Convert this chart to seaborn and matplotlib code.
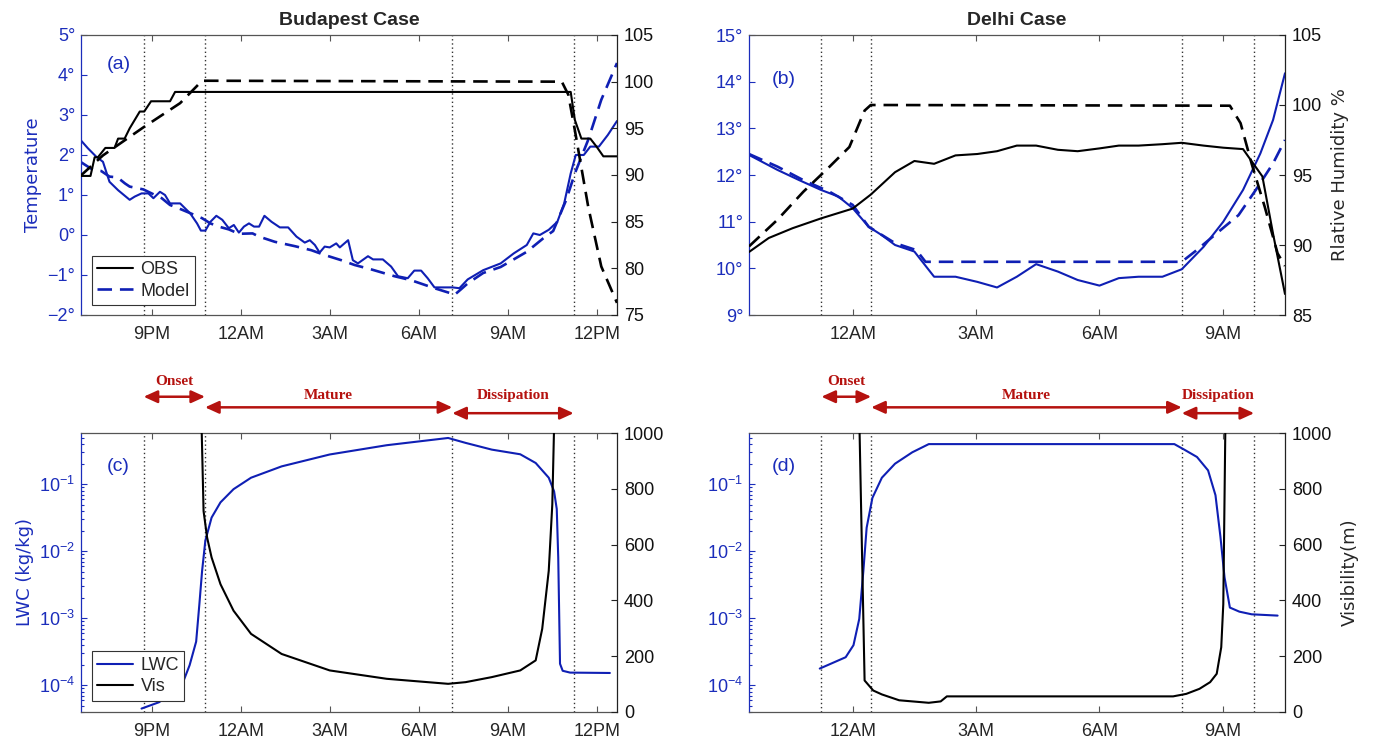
import matplotlib
matplotlib.use("Agg")
import matplotlib.pyplot as plt
from matplotlib.lines import Line2D
import seaborn as sns

# ---------------- Budapest case (hours counted from 00:00 of the first day) ----------------
bud_temp_obs_hr = [18.6, 18.85, 19.13, 19.36, 19.58, 19.87, 20.26, 20.43, 20.66, 20.89, 21.06,
                   21.28, 21.45, 21.62, 21.96, 22.3, 22.53, 22.66, 22.81, 22.98, 23.18, 23.38,
                   23.6, 23.77, 23.94, 24.11, 24.28, 24.45, 24.62, 24.8, 25.04, 25.32, 25.6,
                   25.88, 26.16, 26.33, 26.5, 26.66, 26.83, 27.0, 27.22, 27.34, 27.62, 27.78,
                   27.95, 28.29, 28.46, 28.79, 29.07, 29.3, 29.63, 29.85, 30.08, 30.3, 30.53,
                   31.14, 31.37, 31.65, 32.17, 32.76, 33.2, 33.64, 33.86, 34.08, 34.38, 34.67,
                   34.9, 35.12, 35.29, 35.56, 35.78, 36.07, 36.37, 36.68]
bud_temp_obs = [2.38, 2.17, 1.96, 1.83, 1.33, 1.12, 0.88, 0.96, 1.04, 1.04, 0.92,
                1.08, 1.0, 0.79, 0.79, 0.54, 0.29, 0.11, 0.11, 0.33, 0.48, 0.38,
                0.17, 0.25, 0.06, 0.21, 0.29, 0.21, 0.21, 0.48, 0.33, 0.19, 0.19,
                -0.04, -0.19, -0.13, -0.25, -0.44, -0.29, -0.31, -0.21, -0.31, -0.13, -0.63,
                -0.71, -0.53, -0.61, -0.61, -0.79, -1.03, -1.08, -0.89, -0.89, -1.08, -1.31,
                -1.31, -1.33, -1.11, -0.88, -0.71, -0.46, -0.25, 0.04, 0.0, 0.13, 0.33,
                0.79, 1.54, 2.0, 2.0, 2.21, 2.21, 2.5, 2.85]

bud_temp_mod_hr = [18.6, 18.85, 19.02, 19.3, 19.58, 19.85, 20.1, 20.26, 20.72, 21.0, 21.34,
                   21.62, 21.9, 22.19, 22.7, 22.98, 23.26, 23.6, 23.94, 24.4, 24.62, 25.15,
                   25.83, 26.38, 26.83, 27.39, 27.84, 28.4, 29.18, 29.74, 30.53, 31.09, 31.2,
                   31.42, 31.65, 32.17, 32.76, 33.64, 34.2, 34.53, 34.97, 35.26, 35.71, 36.15,
                   36.68]
bud_temp_mod = [1.83, 1.71, 1.63, 1.6, 1.46, 1.44, 1.29, 1.21, 1.14, 1.04, 0.92,
                0.75, 0.67, 0.58, 0.42, 0.29, 0.21, 0.14, 0.03, 0.04, -0.04, -0.17,
                -0.28, -0.38, -0.5, -0.63, -0.75, -0.86, -1.03, -1.13, -1.33, -1.46, -1.5,
                -1.36, -1.21, -0.95, -0.8, -0.42, -0.08, 0.1, 0.88, 1.54, 2.38, 3.38,
                4.3]

bud_rh_obs_hr = [18.6, 18.94, 19.08, 19.19, 19.44, 19.75, 19.87, 20.09, 20.26, 20.6, 20.75,
                 20.98, 21.62, 21.79, 35.12, 35.26, 35.48, 35.78, 36.0, 36.22, 36.68]
bud_rh_obs = [89.9, 89.9, 91.9, 91.9, 92.9, 92.9, 93.9, 93.9, 95.0, 96.8, 96.8,
              97.9, 97.9, 98.9, 98.9, 95.9, 93.9, 93.9, 93.0, 92.0, 92.0]

bud_rh_mod_hr = [18.6, 19.36, 20.72, 21.96, 22.7, 34.82, 35.04, 35.26, 35.71, 36.15, 36.68]
bud_rh_mod = [89.9, 92.1, 95.1, 97.7, 100.1, 100.0, 98.6, 94.8, 86.6, 80.2, 76.3]

bud_lwc_hr = [20.66, 21.25, 21.84, 22.06, 22.28, 22.5, 22.61, 22.7, 22.81, 23.02, 23.32,
              23.76, 24.35, 25.38, 27.0, 28.92, 30.99, 31.58, 32.46, 33.42, 33.94, 34.38,
              34.56, 34.65, 34.7, 34.76, 34.85, 35.1, 36.44]
bud_lwc = [4.5e-5, 5.6e-5, 8.5e-5, 1.12e-4, 2.0e-4, 4.5e-4, 1.66e-3, 5.1e-3, 1.45e-2, 3.2e-2, 5.4e-2,
           8.5e-2, 0.126, 0.186, 0.28, 0.385, 0.494, 0.417, 0.331, 0.282, 0.209, 0.126,
           0.079, 0.043, 8.1e-3, 2.1e-4, 1.65e-4, 1.55e-4, 1.53e-4]

bud_vis_hr = [22.6, 22.75, 22.87, 23.02, 23.32, 23.76, 24.35, 25.38, 27.0, 28.92, 30.99,
              31.58, 32.46, 33.42, 33.94, 34.16, 34.38, 34.5, 34.62]
bud_vis = [1400, 720, 625, 554, 458, 363, 280, 208, 149, 119, 101,
           107, 125, 149, 185, 298, 506, 744, 1300]

bud_phase_edges = [20.73, 22.80, 31.13, 35.22]

# ---------------- Delhi case ----------------
del_temp_obs_hr = [21.48, 22.17, 22.7, 23.23, 23.65, 24.0, 24.39, 24.71, 25.03, 25.5, 25.98,
                   26.5, 27.03, 27.51, 27.99, 28.46, 28.99, 29.47, 30.0, 30.47, 30.95, 31.53,
                   32.0, 32.53, 33.01, 33.49, 33.91, 34.22, 34.51]
del_temp_obs = [12.43, 12.11, 11.89, 11.68, 11.54, 11.29, 10.89, 10.71, 10.5, 10.36, 9.82,
                9.82, 9.71, 9.59, 9.82, 10.09, 9.93, 9.75, 9.63, 9.79, 9.82, 9.82,
                9.98, 10.46, 11.0, 11.68, 12.46, 13.18, 14.18]

del_temp_mod_hr = [21.48, 22.17, 22.8, 23.44, 24.0, 24.39, 25.03, 25.55, 25.77, 32.0, 32.32,
                   32.85, 33.38, 33.8, 34.22, 34.51]
del_temp_mod = [12.45, 12.18, 11.89, 11.64, 11.36, 10.89, 10.54, 10.39, 10.14, 10.14, 10.36,
                10.75, 11.14, 11.68, 12.25, 12.75]

del_rh_obs_hr = [21.48, 21.96, 22.54, 23.23, 24.0, 24.44, 25.03, 25.5, 25.98, 26.5, 27.03,
                 27.51, 27.99, 28.46, 28.99, 29.47, 30.0, 30.47, 30.95, 31.53, 32.0, 32.53,
                 33.01, 33.49, 33.96, 34.22, 34.51]
del_rh_obs = [89.5, 90.5, 91.2, 91.9, 92.6, 93.6, 95.2, 96.0, 95.8, 96.4, 96.5,
              96.7, 97.1, 97.1, 96.8, 96.7, 96.9, 97.1, 97.1, 97.2, 97.3, 97.1,
              96.95, 96.85, 94.9, 90.8, 86.5]

del_rh_mod_hr = [21.48, 22.17, 22.8, 23.44, 23.92, 24.29, 24.44, 33.17, 33.43, 33.7, 34.02,
                 34.33, 34.51]
del_rh_mod = [89.9, 91.8, 93.8, 95.6, 97.0, 99.6, 100.0, 99.95, 98.7, 95.8, 92.7,
              89.4, 88.5]

del_lwc_hr = [23.2, 23.83, 24.02, 24.16, 24.26, 24.34, 24.48, 24.71, 25.03, 25.45, 25.85,
              31.82, 32.06, 32.37, 32.64, 32.82, 32.94, 33.04, 33.17, 33.4, 33.7, 34.33]
del_lwc = [1.78e-4, 2.63e-4, 3.98e-4, 9.8e-4, 5.1e-3, 2.26e-2, 6.3e-2, 0.126, 0.204, 0.302, 0.40,
           0.40, 0.331, 0.257, 0.162, 0.069, 0.0166, 4.1e-3, 1.45e-3, 1.26e-3, 1.15e-3, 1.1e-3]

del_vis_hr = [24.1, 24.29, 24.5, 24.71, 25.13, 25.85, 26.14, 26.29, 31.79, 32.11, 32.43,
              32.69, 32.85, 32.96, 33.01, 33.09]
del_vis = [1500, 113, 77, 63, 42, 33, 38, 56, 56, 65, 83,
           107, 137, 232, 387, 1400]

del_phase_edges = [23.24, 24.45, 32.0, 33.76]

# ---------------- axis ticks ----------------
bud_xticks = [21, 24, 27, 30, 33, 36]
bud_xlabels = ["9PM", "12AM", "3AM", "6AM", "9AM", "12PM"]
del_xticks = [24, 27, 30, 33]
del_xlabels = ["12AM", "3AM", "6AM", "9AM"]
bud_temp_ticks = [-2, -1, 0, 1, 2, 3, 4, 5]
del_temp_ticks = [9, 10, 11, 12, 13, 14, 15]
bud_rh_ticks = [75, 80, 85, 90, 95, 100, 105]
del_rh_ticks = [85, 90, 95, 100, 105]
lwc_ticks = [1e-4, 1e-3, 1e-2, 1e-1]
vis_ticks = [0, 200, 400, 600, 800, 1000]
phase_names = ["Onset", "Mature", "Dissipation"]

BLUE = "#0f1fb4"
BLUE_TXT = "#1b2dbb"
RED = "#b5120f"
FRAME = "#555555"

sns.set_style("white")
plt.rcParams["font.family"] = ["Liberation Sans", "DejaVu Sans"]
plt.rcParams["axes.unicode_minus"] = True

fig = plt.figure(figsize=(13.73, 7.38), dpi=100)
W, H = 1373, 738


def make_axes(left, top, right, bottom):
    return fig.add_axes([left / W, 1 - bottom / H, (right - left) / W, (bottom - top) / H])


def trace(ax, x, y, color, ls="-", lw=1.5):
    sns.lineplot(x=x, y=y, ax=ax, color=color, linewidth=lw, linestyle=ls,
                 estimator=None, sort=False, legend=False)


def deg(v):
    return (f"\u2212{abs(v)}°" if v < 0 else f"{v}°")


def style_pair(ax, ax2, xlim, xticks, xlabels):
    ax.set_xlim(*xlim)
    ax.set_xticks(xticks)
    ax.set_xticklabels(xlabels)
    ax.set_xlabel("")
    ax.set_ylabel("")
    ax2.set_ylabel("")
    ax.tick_params(axis="x", direction="in", top=True, bottom=True, length=4.5,
                   width=0.8, color=FRAME, labelsize=13, pad=8)
    ax.tick_params(axis="y", which="both", direction="in", left=True, length=4.5, width=0.8,
                   color=BLUE_TXT, labelcolor=BLUE_TXT, labelsize=13, pad=4)
    ax.tick_params(axis="y", which="minor", length=2.5)
    ax2.tick_params(axis="y", direction="in", right=True, length=4.5, width=0.8,
                    color="#222222", labelcolor="#111111", labelsize=13, pad=5)
    for s in ("top", "bottom"):
        ax.spines[s].set_color(FRAME)
        ax.spines[s].set_linewidth(0.9)
    ax.spines["left"].set_color(BLUE_TXT)
    ax.spines["left"].set_linewidth(0.9)
    ax.spines["right"].set_visible(False)
    for s in ("top", "bottom", "left"):
        ax2.spines[s].set_visible(False)
    ax2.spines["right"].set_color("#222222")
    ax2.spines["right"].set_linewidth(0.9)


def phase_lines(ax, edges):
    for e in edges:
        ax.axvline(e, color="#333333", linestyle=(0, (1, 2)), linewidth=1.0, zorder=1)


def phase_arrows(ax, edges):
    trans = ax.get_xaxis_transform()
    arrow_y = [1.130, 1.092, 1.071]
    text_y = [1.184, 1.133, 1.133]
    for i, name in enumerate(phase_names):
        x0, x1 = edges[i], edges[i + 1]
        ax.annotate("", xy=(x1, arrow_y[i]), xytext=(x0, arrow_y[i]),
                    xycoords=trans, textcoords=trans, annotation_clip=False,
                    arrowprops=dict(arrowstyle="<|-|>,head_length=0.55,head_width=0.25",
                                    color=RED, lw=1.8, shrinkA=0, shrinkB=0,
                                    mutation_scale=15))
        ax.text((x0 + x1) / 2, text_y[i], name, transform=trans, ha="center", va="center",
                color=RED, fontsize=11, fontweight="bold", family="Liberation Serif")


# ---------------- (a) Budapest temperature / RH ----------------
axa = make_axes(81, 35, 617, 315)
axa2 = axa.twinx()
phase_lines(axa, bud_phase_edges)
trace(axa, bud_temp_obs_hr, bud_temp_obs, BLUE)
trace(axa, bud_temp_mod_hr, bud_temp_mod, BLUE, ls=(0, (5.5, 3)), lw=1.9)
trace(axa2, bud_rh_obs_hr, bud_rh_obs, "black")
trace(axa2, bud_rh_mod_hr, bud_rh_mod, "black", ls=(0, (5.5, 3)), lw=1.9)
axa.set_ylim(-2, 5)
axa.set_yticks(bud_temp_ticks)
axa.set_yticklabels([deg(v) for v in bud_temp_ticks])
axa2.set_ylim(75, 105)
axa2.set_yticks(bud_rh_ticks)
style_pair(axa, axa2, (18.62, 36.68), bud_xticks, bud_xlabels)
axa.set_ylabel("Temperature", color=BLUE_TXT, fontsize=13, family="DejaVu Sans", labelpad=4)
axa.set_title("Budapest Case", fontsize=14, fontweight="bold", pad=7)
axa.text(0.048, 0.893, "(a)", transform=axa.transAxes, color=BLUE_TXT, fontsize=14,
         ha="left", va="center")
leg_a = axa2.legend(
    handles=[Line2D([], [], color="black", lw=1.5),
             Line2D([], [], color=BLUE, lw=1.9, linestyle=(0, (5.5, 3)))],
    labels=["OBS", "Model"], loc="lower left", bbox_to_anchor=(0.02, 0.036),
    borderaxespad=0, fontsize=13, frameon=True, fancybox=False, framealpha=1,
    edgecolor="#333333", borderpad=0.3, labelspacing=0.25, handletextpad=0.4,
    handlelength=2.0)
leg_a.get_frame().set_linewidth(0.8)

# ---------------- (b) Delhi temperature / RH ----------------
axb = make_axes(749, 35, 1285, 315)
axb2 = axb.twinx()
phase_lines(axb, del_phase_edges)
trace(axb, del_temp_obs_hr, del_temp_obs, BLUE)
trace(axb, del_temp_mod_hr, del_temp_mod, BLUE, ls=(0, (5.5, 3)), lw=1.9)
trace(axb2, del_rh_obs_hr, del_rh_obs, "black")
trace(axb2, del_rh_mod_hr, del_rh_mod, "black", ls=(0, (5.5, 3)), lw=1.9)
axb.set_ylim(9, 15)
axb.set_yticks(del_temp_ticks)
axb.set_yticklabels([deg(v) for v in del_temp_ticks])
axb2.set_ylim(85, 105)
axb2.set_yticks(del_rh_ticks)
style_pair(axb, axb2, (21.48, 34.51), del_xticks, del_xlabels)
axb2.set_ylabel("Rlative Humidity %", fontsize=13, family="DejaVu Sans", labelpad=6)
axb.set_title("Delhi Case", fontsize=14, fontweight="bold", pad=7)
axb.text(0.043, 0.84, "(b)", transform=axb.transAxes, color=BLUE_TXT, fontsize=14,
         ha="left", va="center")

# ---------------- (c) Budapest LWC / visibility ----------------
axc = make_axes(81, 433, 617, 712)
axc2 = axc.twinx()
phase_lines(axc, bud_phase_edges)
trace(axc, bud_lwc_hr, bud_lwc, BLUE)
trace(axc2, bud_vis_hr, bud_vis, "black")
axc.set_yscale("log")
axc.set_ylim(4.0e-5, 0.586)
axc.set_yticks(lwc_ticks)
axc2.set_ylim(0, 1000)
axc2.set_yticks(vis_ticks)
style_pair(axc, axc2, (18.62, 36.68), bud_xticks, bud_xlabels)
axc.set_ylabel("LWC (kg/kg)", color=BLUE_TXT, fontsize=13, family="DejaVu Sans", labelpad=4)
axc.text(0.048, 0.88, "(c)", transform=axc.transAxes, color=BLUE_TXT, fontsize=14,
         ha="left", va="center")
leg_c = axc2.legend(
    handles=[Line2D([], [], color=BLUE, lw=1.5), Line2D([], [], color="black", lw=1.5)],
    labels=["LWC", "Vis"], loc="lower left", bbox_to_anchor=(0.02, 0.04),
    borderaxespad=0, fontsize=13, frameon=True, fancybox=False, framealpha=1,
    edgecolor="#333333", borderpad=0.3, labelspacing=0.25, handletextpad=0.4,
    handlelength=2.0)
leg_c.get_frame().set_linewidth(0.8)
phase_arrows(axc, bud_phase_edges)

# ---------------- (d) Delhi LWC / visibility ----------------
axd = make_axes(749, 433, 1285, 712)
axd2 = axd.twinx()
phase_lines(axd, del_phase_edges)
trace(axd, del_lwc_hr, del_lwc, BLUE)
trace(axd2, del_vis_hr, del_vis, "black")
axd.set_yscale("log")
axd.set_ylim(4.0e-5, 0.586)
axd.set_yticks(lwc_ticks)
axd2.set_ylim(0, 1000)
axd2.set_yticks(vis_ticks)
style_pair(axd, axd2, (21.48, 34.51), del_xticks, del_xlabels)
axd2.set_ylabel("Visibility(m)", fontsize=13, family="DejaVu Sans", labelpad=6)
axd.text(0.043, 0.88, "(d)", transform=axd.transAxes, color=BLUE_TXT, fontsize=14,
         ha="left", va="center")
phase_arrows(axd, del_phase_edges)

fig.savefig("out.png", dpi=100, facecolor="white")
